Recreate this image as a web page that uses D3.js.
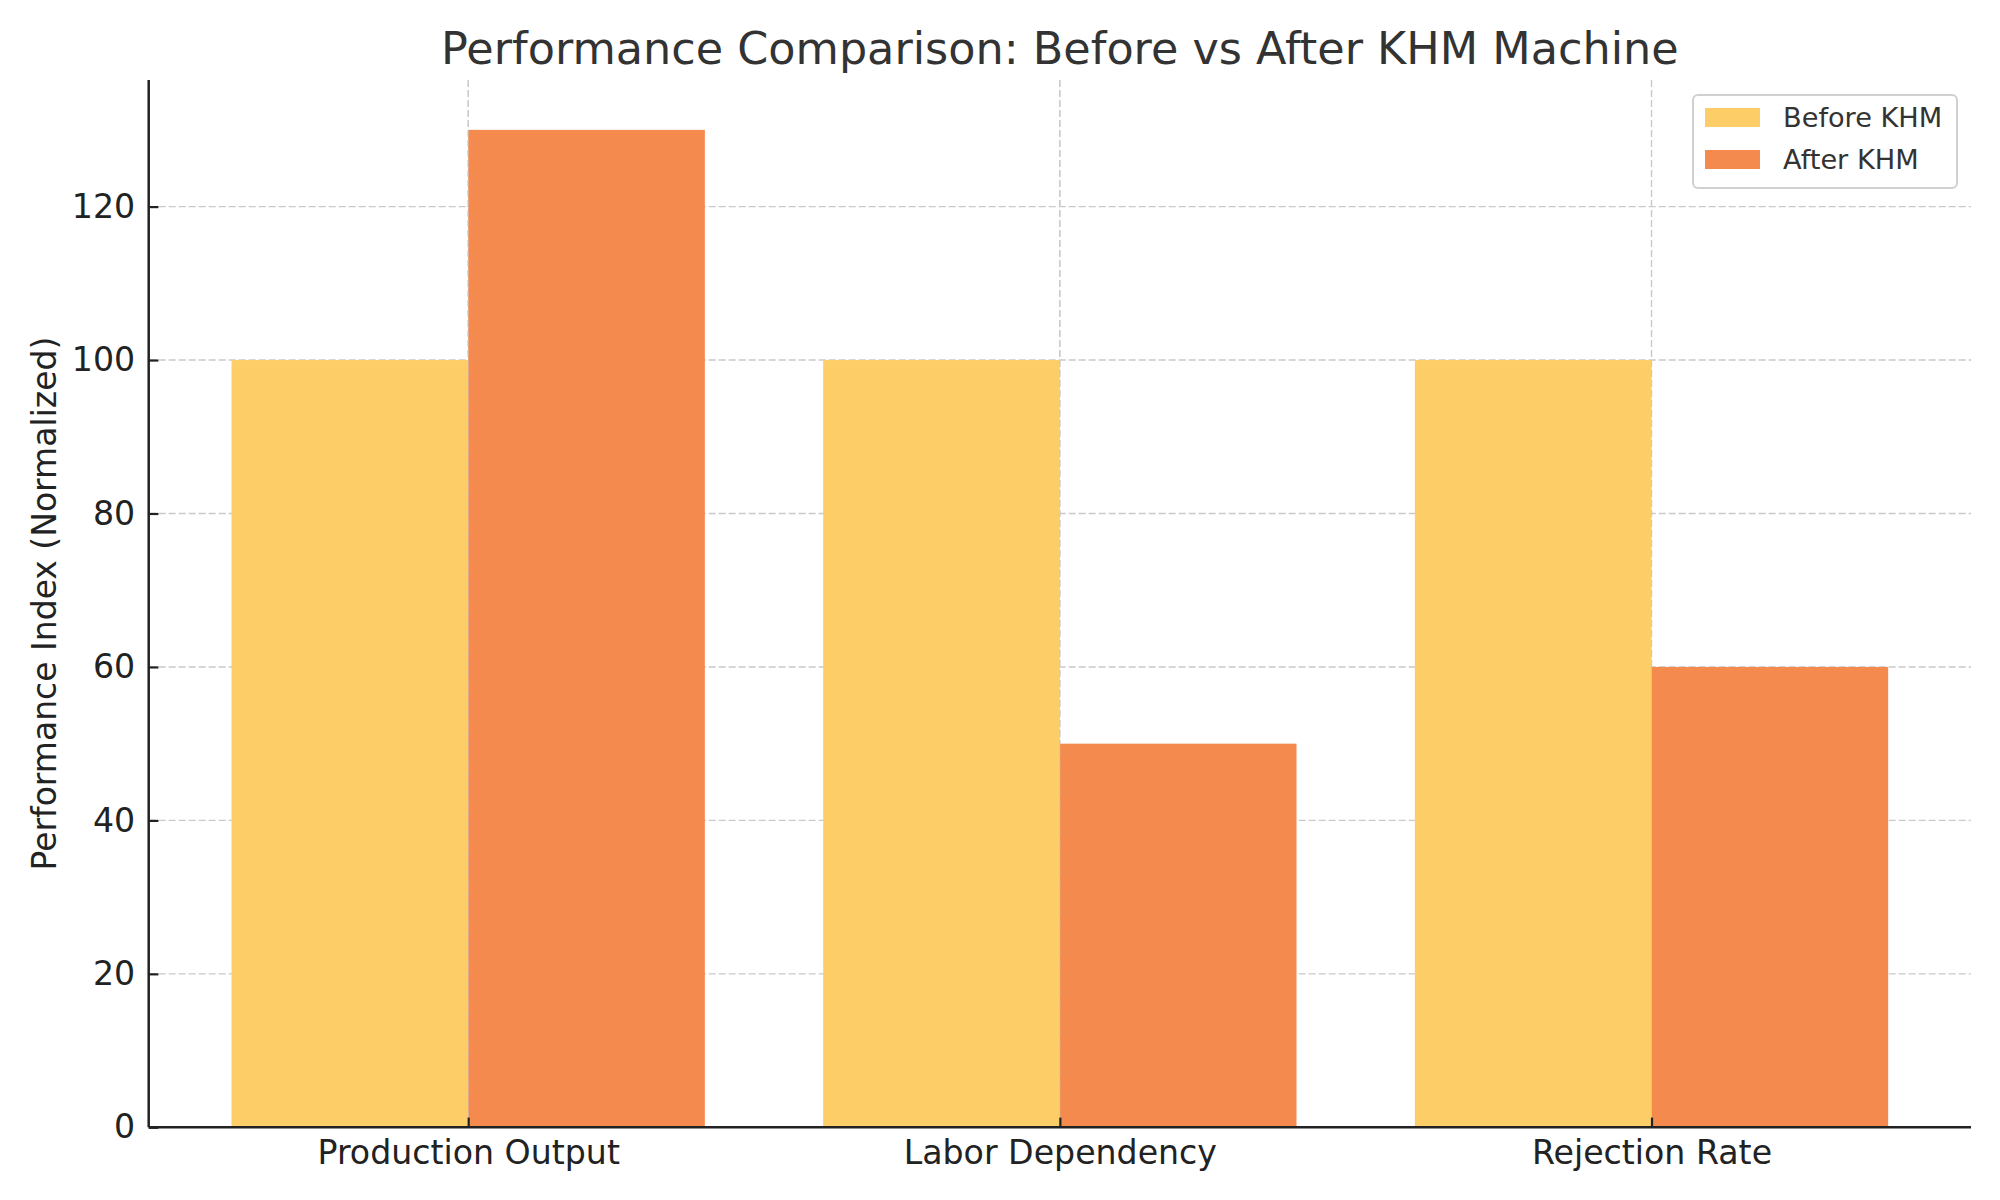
<!DOCTYPE html>
<html><head><meta charset="utf-8">
<script src="https://cdn.jsdelivr.net/npm/d3@7"></script>
<style>body{margin:0;background:#fff;} svg{display:block;}</style>
</head><body>
<svg id="chart" width="2000" height="1200"></svg>
<script>
const categories = ["Production Output", "Labor Dependency", "Rejection Rate"];
const seriesNames = ["Before KHM", "After KHM"];
const beforeValues = [100, 100, 100];
const afterValues = [130, 50, 60];
const yTicks = [0, 20, 40, 60, 80, 100, 120];
const colors = ["#FDCD67", "#F58A4F"];

const W = 2000, H = 1200;
const m = {left: 148.7, right: 2000 - 1971, top: 80, bottom: 1200 - 1127.3};
const svg = d3.select("#chart");
const font = "DejaVu Sans, sans-serif";

const n = categories.length;
const barW = 0.4;
const x = d3.scaleLinear().domain([-0.54, n - 1 + 0.54]).range([m.left, W - m.right]);
const y = d3.scaleLinear().domain([0, 136.5]).range([H - m.bottom, m.top]);

const g = svg.append("g");

// grid
g.append("g").selectAll("line").data(yTicks.filter(d => d > 0)).join("line")
  .attr("x1", m.left).attr("x2", W - m.right)
  .attr("y1", d => y(d)).attr("y2", d => y(d))
  .attr("stroke", "#c9c9c9").attr("stroke-width", 1.4).attr("stroke-dasharray", "7,3");
g.append("g").selectAll("line").data(d3.range(n)).join("line")
  .attr("y1", m.top).attr("y2", H - m.bottom)
  .attr("x1", d => x(d)).attr("x2", d => x(d))
  .attr("stroke", "#c9c9c9").attr("stroke-width", 1.4).attr("stroke-dasharray", "7,3");

// bars
const data = categories.map((c, i) => ({i, vals: [beforeValues[i], afterValues[i]]}));
data.forEach(d => {
  d.vals.forEach((v, s) => {
    const x0 = s === 0 ? d.i - barW : d.i;
    g.append("rect")
      .attr("x", x(x0))
      .attr("width", x(x0 + barW) - x(x0))
      .attr("y", y(v))
      .attr("height", y(0) - y(v))
      .attr("fill", colors[s]);
  });
});
g.append("g").selectAll("line").data(d3.range(n)).join("line")
  .attr("y1", m.top).attr("y2", H - m.bottom)
  .attr("x1", d => x(d)).attr("x2", d => x(d))
  .attr("stroke", "#c9c9c9").attr("stroke-width", 1).attr("stroke-opacity", 0.7).attr("stroke-dasharray", "7,3");

// axes
const yAxis = d3.axisLeft(y).tickValues(yTicks).tickSizeInner(-9.7).tickSizeOuter(0).tickPadding(13.5);
const ya = svg.append("g").attr("transform", `translate(${m.left},0)`).call(yAxis);
ya.select(".domain").attr("stroke", "#222").attr("stroke-width", 2.5);
ya.selectAll(".tick line").attr("stroke", "#222").attr("stroke-width", 2.2);
ya.selectAll(".tick text").attr("font-family", font).attr("font-size", 33.2).attr("fill", "#222");

const xAxis = d3.axisBottom(x).tickValues(d3.range(n)).tickFormat(i => categories[i])
  .tickSizeInner(-9.7).tickSizeOuter(0).tickPadding(13);
const xa = svg.append("g").attr("transform", `translate(0,${H - m.bottom})`).call(xAxis);
xa.select(".domain").attr("stroke", "#222").attr("stroke-width", 2.5);
xa.selectAll(".tick line").attr("stroke", "#222").attr("stroke-width", 2.2);
xa.selectAll(".tick text").attr("font-family", font).attr("font-size", 33.2).attr("fill", "#222");
xa.select(".domain").attr("d", `M${m.left},0H${W - m.right}`);
ya.select(".domain").attr("d", `M0,${m.top}V${H - m.bottom}`);

// title
svg.append("text").attr("x", (m.left + W - m.right) / 2).attr("y", 64)
  .attr("text-anchor", "middle").attr("font-family", font).attr("font-size", 44.5)
  .attr("fill", "#333").text("Performance Comparison: Before vs After KHM Machine");

// y label
svg.append("text").attr("transform", `translate(56,${(m.top + H - m.bottom) / 2}) rotate(-90)`)
  .attr("text-anchor", "middle").attr("font-family", font).attr("font-size", 33)
  .attr("fill", "#222").text("Performance Index (Normalized)");

// legend
const lg = svg.append("g");
lg.append("rect").attr("x", 1693).attr("y", 95).attr("width", 264).attr("height", 93)
  .attr("rx", 5).attr("fill", "#fff").attr("fill-opacity", 0.85)
  .attr("stroke", "#d0d0d0").attr("stroke-width", 2);
seriesNames.forEach((s, i) => {
  lg.append("rect").attr("x", 1705).attr("y", 108 + i * 42).attr("width", 55).attr("height", 19)
    .attr("fill", colors[i]);
  lg.append("text").attr("x", 1783).attr("y", 127 + i * 42).attr("font-family", font)
    .attr("font-size", 27.2).attr("fill", "#333").text(s);
});
</script>
</body></html>
